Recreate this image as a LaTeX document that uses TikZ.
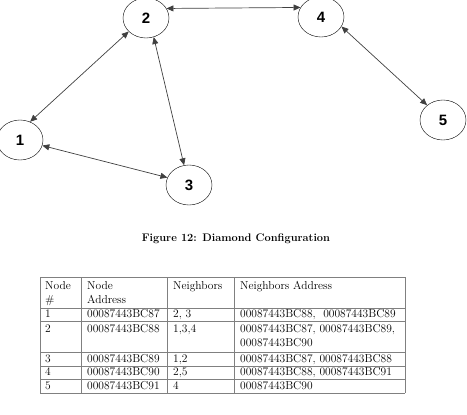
\documentclass[tikz,border=0pt]{standalone}
\usepackage{fontspec}
\newfontfamily\labelfont{Liberation Sans}
\usetikzlibrary{arrows.meta,shapes.geometric}

\tikzset{
  vertex/.style={draw,ellipse,minimum width=46pt,minimum height=40pt,inner sep=0pt,
    font=\labelfont\bfseries\fontsize{15}{15}\selectfont},
  link/.style={draw=black!75,line width=0.7pt,
    {Triangle[length=7pt,width=6pt]}-{Triangle[length=7pt,width=6pt]}},
  cell/.style={anchor=base west,inner sep=0pt,font=\fontsize{11.5}{13}\selectfont},
  rule/.style={draw=black!50,line width=0.7pt}
}

\begin{document}
\begin{tikzpicture}[x=1pt,y=-1pt]
\useasboundingbox (0,0) rectangle (467,415);
%
\begin{scope} % network
\foreach \x/\y in {(20,140)/1,(146,18)/2,(189,185)/3,(321,17)/4,(443,120)/5}
\node[vertex] (v\y) at \x {\y};
\foreach \a/\b in {1.61/2.218,2.-68/3.104,1.-14/3.161,2.25/4.155,4.-25/5.137}
\draw[link] (v\a) -- (v\b);
\end{scope}
%
\node[anchor=base,font=\bfseries\fontsize{11}{13}\selectfont] (caption) at (236,241)
  {Figure 12: Diamond Configuration};
%
\begin{scope} % table of addresses
\foreach \y in {277,308,321,352,366,379,393}
\draw[rule] (40,\y) -- (405,\y);
\foreach \x in {40,81,167,234,405}
\draw[rule] (\x,277) -- (\x,393);
% header
\foreach \x/\t [count=\i] in {45/Node,87/Node,173/Neighbors,240/Neighbors Address}
\node[cell] (h\i) at (\x,289) {\t};
\foreach \x/\t [count=\i] in {45/\#,87/Address}
\node[cell] (hh\i) at (\x,303) {\t};
% rows
\foreach \x/\t [count=\i] in {45/1,87/00087443BC87,173/{2, 3},240/{00087443BC88,\ \ 00087443BC89}}
\node[cell] (ra\i) at (\x,317) {\t};
\foreach \x/\t [count=\i] in {45/2,87/00087443BC88,173/{1,3,4},240/{00087443BC87, 00087443BC89,}}
\node[cell] (rb\i) at (\x,332) {\t};
\node[cell] (rbb) at (240,346) {00087443BC90};
\foreach \x/\t [count=\i] in {45/3,87/00087443BC89,173/{1,2},240/{00087443BC87, 00087443BC88}}
\node[cell] (rc\i) at (\x,362) {\t};
\foreach \x/\t [count=\i] in {45/4,87/00087443BC90,173/{2,5},240/{00087443BC88, 00087443BC91}}
\node[cell] (rd\i) at (\x,375) {\t};
\foreach \x/\t [count=\i] in {45/5,87/00087443BC91,173/4,240/00087443BC90}
\node[cell] (re\i) at (\x,389) {\t};
\end{scope}
%
\end{tikzpicture}
\end{document}
